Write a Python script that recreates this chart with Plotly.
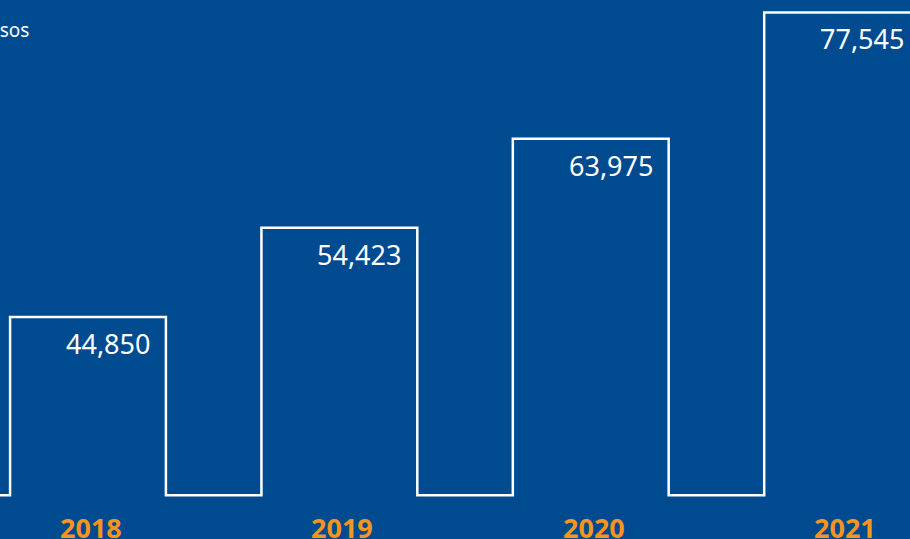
import plotly.graph_objects as go

# Data
years = ["2018", "2019", "2020", "2021"]
values = [44850, 54423, 63975, 77545]
value_labels = ["44,850", "54,423", "63,975", "77,545"]
unit_label = "Millones de pesos"

# Styling
BG = "#004A8F"
ORANGE = "#F7941D"
WHITE = "#FFFFFF"
BASE = 25700          # floor of the step outline (value units)
HALF_W = 0.31         # half bar width in category units
X_RANGE = [-0.35, 3.27]
WIDTH, HEIGHT = 910, 539
FONT = "Noto Sans"
PX_PER_UNIT = WIDTH / (X_RANGE[1] - X_RANGE[0])

# Build the outlined step path from the values
xs, ys = [-1.0], [BASE]
for i, v in enumerate(values):
    xs += [i - HALF_W, i - HALF_W, i + HALF_W, i + HALF_W]
    ys += [BASE, v, v, BASE]
xs.append(len(values) + 1)
ys.append(BASE)

fig = go.Figure()
fig.add_trace(go.Scatter(
    x=xs, y=ys, mode="lines",
    line=dict(color=WHITE, width=2.5),
    hoverinfo="skip", showlegend=False,
))

annotations = []
for i, (v, lab) in enumerate(zip(values, value_labels)):
    # value label, right-aligned just inside the bar's top-right corner
    annotations.append(dict(
        x=i, y=v, xref="x", yref="y",
        text=lab, showarrow=False,
        xanchor="right", yanchor="top",
        xshift=HALF_W * PX_PER_UNIT - 14, yshift=-6,
        font=dict(family=FONT, size=27, color=WHITE),
    ))
    # year label under each bar
    annotations.append(dict(
        x=i, y=0, xref="x", yref="paper",
        text="<b>%s</b>" % years[i], showarrow=False,
        xanchor="center", yanchor="middle",
        xshift=3, yshift=12,
        font=dict(family=FONT, size=27, color=ORANGE),
    ))

annotations.append(dict(
    x=0, y=1, xref="paper", yref="paper",
    text=unit_label, showarrow=False,
    xanchor="right", yanchor="top",
    xshift=31, yshift=-15,
    font=dict(family=FONT, size=19, color=WHITE),
))

fig.update_layout(
    width=WIDTH, height=HEIGHT,
    margin=dict(l=0, r=0, t=0, b=0),
    paper_bgcolor=BG, plot_bgcolor=BG,
    xaxis=dict(range=X_RANGE, visible=False, fixedrange=True),
    yaxis=dict(range=[21000, 78880], visible=False, fixedrange=True),
    annotations=annotations,
    showlegend=False,
)

fig.write_html("out.html")
